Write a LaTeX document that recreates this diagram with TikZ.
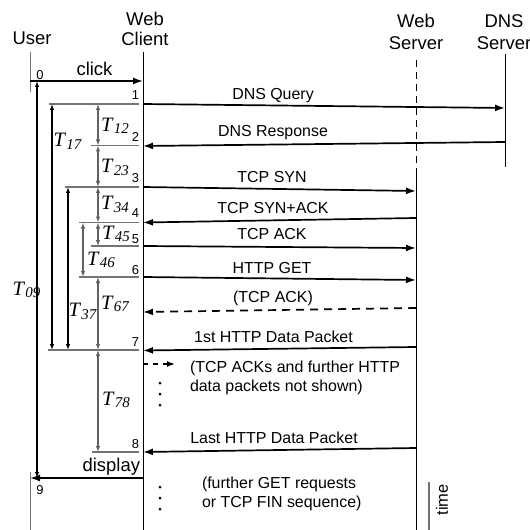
\documentclass[tikz,border=0pt]{standalone}
\usepackage{fontspec}
\setmainfont{Liberation Sans}
\newfontfamily\timesfont{Liberation Serif}
\usetikzlibrary{arrows.meta}
\definecolor{tickgray}{gray}{0.45}
\definecolor{tgray}{gray}{0.38}
% interval label: italic T with a small lowered index
\newcommand\Tlab[1]{{\timesfont\itshape\fontsize{20.5}{20}\selectfont T\kern1.5bp\raisebox{-2.5bp}{\fontsize{15}{15}\selectfont #1}}}
\begin{document}
\begin{tikzpicture}[x=1bp,y=-1bp,
  every node/.style={inner sep=0pt, outer sep=0pt},
  title/.style={font=\fontsize{18.5}{21}\selectfont, anchor=base},
  lbl/.style={font=\fontsize{16}{19}\selectfont, anchor=base},
  big/.style={font=\fontsize{18.5}{21}\selectfont, anchor=base},
  note/.style={font=\fontsize{16}{19}\selectfont, anchor=base west},
  num/.style={font=\fontsize{13}{13}\selectfont, anchor=base east},
  tl/.style={anchor=base west},
  life/.style={line width=1bp},
  msg/.style={line width=1.7bp, -{Latex[length=10bp,width=7bp]}},
  tickln/.style={line width=1.2bp, draw=tickgray},
  tarr/.style={line width=1.2bp, {Latex[length=6bp,width=4.5bp]}-{Latex[length=6bp,width=4.5bp]}},
]
\useasboundingbox (0,0) rectangle (530,530);

% participants
\node[title] (user) at (32,45) {User};
\node[title] (client1) at (145,25.7) {Web};
\node[title] (client2) at (145,46) {Client};
\node[title] (ws1) at (416,28) {Web};
\node[title] (ws2) at (416,49.5) {Server};
\node[title] (dns1) at (504,28) {DNS};
\node[title] (dns2) at (504,49.5) {Server};

% lifelines
\draw[life, draw=tickgray] (30,52) -- (30,92);
\draw[life, draw=tickgray] (30,472) -- (30,530);
\draw[life] (143,52) -- (143,530);
\draw[life, dash pattern=on 7bp off 5bp] (416,60) -- (416,172);
\draw[life] (416,172) -- (416,530);
\draw[life] (505,54) -- (505,167);

% message end points
\coordinate (u0) at (30,81);   \coordinate (c0) at (143,81);
\coordinate (c1) at (143,104); \coordinate (d1) at (505,108);
\coordinate (d2) at (505,142); \coordinate (c2) at (143,146);
\coordinate (c3) at (143,187); \coordinate (s3) at (416,191);
\coordinate (s4) at (416,218); \coordinate (c4) at (143,222.5);
\coordinate (c5) at (143,246); \coordinate (s5) at (416,248);
\coordinate (c6) at (143,277); \coordinate (s6) at (416,280);
\coordinate (sa) at (416,308); \coordinate (ca) at (143,312);
\coordinate (s7) at (416,347); \coordinate (c7) at (143,350.5);
\coordinate (cb) at (143,364); \coordinate (xb) at (175,364);
\coordinate (s8) at (416,448); \coordinate (c8) at (143,452);
\coordinate (c9) at (143,478); \coordinate (u9) at (30,478);

% messages
\draw[msg] (u0) -- (c0);
\node[big] (lclick) at (94.5,76) {click};
\node[num, anchor=base] (n0) at (40,80) {0};

\draw[msg] (c1) -- (d1);
\node[lbl] (l1) at (273,100) {DNS Query};
\draw[msg] (d2) -- (c2);
\node[lbl] (l2) at (273,137) {DNS Response};
\draw[msg] (c3) -- (s3);
\node[lbl] (l3) at (272,183) {TCP SYN};
\draw[msg] (s4) -- (c4);
\node[lbl] (l4) at (273,213) {TCP SYN+ACK};
\draw[msg] (c5) -- (s5);
\node[lbl] (l5) at (272,239) {TCP ACK};
\draw[msg] (c6) -- (s6);
\node[lbl] (l6) at (272,273) {HTTP GET};
\draw[msg, dash pattern=on 8bp off 6bp] (sa) -- (ca);
\node[lbl] (la) at (273,302) {(TCP ACK)};
\draw[msg] (s7) -- (c7);
\node[lbl] (l7) at (273.5,342) {1st HTTP Data Packet};
\draw[line width=1.5bp, dash pattern=on 5bp off 5bp, -{Latex[length=8bp,width=6bp]}] (cb) -- (xb);
\node[note] (nb1) at (190,372) {(TCP ACKs and further HTTP};
\node[note] (nb2) at (190,391) {data packets not shown)};
\draw[msg] (s8) -- (c8);
\node[lbl] (l8) at (274,443) {Last HTTP Data Packet};
\draw[msg] (c9) -- (u9);
\node[big, anchor=base east] (ldisp) at (140,471.5) {display};
\node[num, anchor=base] (n9) at (40,494) {9};
\node[note] (nc1) at (202,488) {(further GET requests};
\node[note] (nc2) at (202,507) {or TCP FIN sequence)};

% ellipses
\foreach \yy in {383,394,405,487,498,509}
  \fill (160,\yy) circle (1.5bp);

% event ticks and numbers
\draw[tickln] (49,104) -- (139,104);   \node[num] at (139,100) {1};
\draw[tickln] (91,145.5) -- (139,145.5); \node[num] at (139,141.5) {2};
\draw[tickln] (65,187) -- (139,187);   \node[num] at (139,183) {3};
\draw[tickln] (79,222.5) -- (139,222.5); \node[num] at (139,217.5) {4};
\draw[tickln] (91,246) -- (139,246);   \node[num] at (139,243) {5};
\draw[tickln] (79,277) -- (139,277);   \node[num] at (139,274.5) {6};
\draw[tickln] (48,350) -- (139,350);   \node[num] at (139,346.5) {7};
\draw[tickln] (92,452) -- (139,452);   \node[num] at (139,448) {8};

% intervals
\draw[tarr, draw=tgray] (98,104) -- (98,145.5);
\draw[tarr, draw=tgray] (98,145.5) -- (98,187);
\draw[tarr, draw=tgray] (98,187) -- (98,222.5);
\draw[tarr, draw=tgray] (98,222.5) -- (98,246);
\draw[tarr, draw=tgray] (83,222.5) -- (83,277);
\draw[tarr, draw=tgray] (98,277) -- (98,350);
\draw[tarr, draw=tgray] (98,350) -- (98,452);
\draw[tarr] (52,104) -- (52,350);
\draw[tarr] (68,187) -- (68,350);
\draw[tarr] (37,81) -- (37,478);

\node[tl] at (101,131.5) {\Tlab{12}};
\node[tl] at (101,173) {\Tlab{23}};
\node[tl] at (101,210) {\Tlab{34}};
\node[tl] at (102,239) {\Tlab{45}};
\node[tl] at (87,265) {\Tlab{46}};
\node[tl] at (101,309) {\Tlab{67}};
\node[tl] at (102,405) {\Tlab{78}};
\node[tl] at (53.5,147) {\Tlab{17}};
\node[tl] at (68.5,316.5) {\Tlab{37}};
\node[tl] at (12.5,295) {\Tlab{09}};

% time axis
\draw[line width=1.5bp, draw=tickgray] (429,482) -- (429,530);
\node[font=\fontsize{16.5}{19}\selectfont, rotate=90] (ltime) at (442,500) {time};
\end{tikzpicture}
\end{document}
